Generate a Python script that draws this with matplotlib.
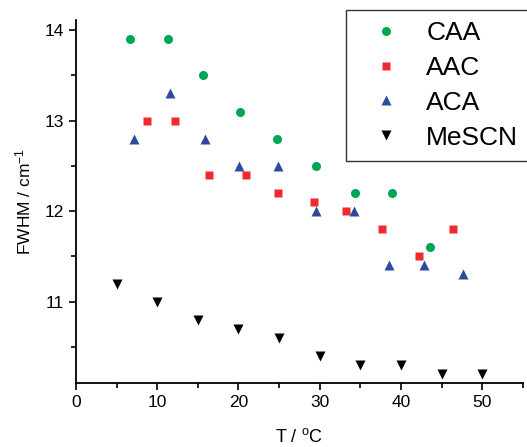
import matplotlib
matplotlib.use("Agg")
import matplotlib.pyplot as plt
from matplotlib.ticker import MultipleLocator

plt.rcParams['font.family'] = ['Liberation Sans', 'DejaVu Sans']

# temperature (deg C) and FWHM (cm^-1) for each sample
caa_t = [6.7, 11.3, 15.6, 20.2, 24.8, 29.5, 34.4, 38.9, 43.6]
caa_w = [13.9, 13.9, 13.5, 13.1, 12.8, 12.5, 12.2, 12.2, 11.6]

aac_t = [8.7, 12.2, 16.4, 20.9, 24.9, 29.3, 33.3, 37.7, 42.2, 46.4]
aac_w = [13.0, 13.0, 12.4, 12.4, 12.2, 12.1, 12.0, 11.8, 11.5, 11.8]

aca_t = [7.1, 11.6, 15.9, 20.1, 24.9, 29.5, 34.2, 38.5, 42.9, 47.7]
aca_w = [12.8, 13.3, 12.8, 12.5, 12.5, 12.0, 12.0, 11.4, 11.4, 11.3]

mescn_t = [5, 10, 15, 20, 25, 30, 35, 40, 45, 50]
mescn_w = [11.2, 11.0, 10.8, 10.7, 10.6, 10.4, 10.3, 10.3, 10.2, 10.2]

fig = plt.figure(figsize=(5.27, 4.47), dpi=100)
ax = fig.add_axes([0.144, 0.143, 0.848, 0.812])

ax.plot(caa_t, caa_w, 'o', color='#00a651', ms=6.5, mec='none', label='CAA')
ax.plot(aac_t, aac_w, 's', color='#ee2a2e', ms=5.6, mec='none', label='AAC')
ax.plot(aca_t, aca_w, '^', color='#2e4a9e', ms=7.2, mec='none', label='ACA')
ax.plot(mescn_t, mescn_w, 'v', color='black', ms=7.2, mec='none', label='MeSCN')

ax.set_xlim(0, 55)
ax.set_ylim(10.1, 14.11)
ax.xaxis.set_major_locator(MultipleLocator(10))
ax.xaxis.set_minor_locator(MultipleLocator(5))
ax.yaxis.set_major_locator(MultipleLocator(1))
ax.yaxis.set_minor_locator(MultipleLocator(0.5))

for side in ['top', 'right']:
    ax.spines[side].set_visible(False)
for side in ['left', 'bottom']:
    ax.spines[side].set_linewidth(1.3)
ax.tick_params(which='major', direction='out', length=5, width=1.2, labelsize=12.5)
ax.tick_params(which='minor', direction='out', length=3.5, width=1.2)

ax.set_xlabel('T / $\\mathregular{^oC}$', fontsize=13, labelpad=13)
ax.set_ylabel('FWHM / cm$\\mathregular{^{-1}}$', fontsize=12.5, labelpad=8)

leg = ax.legend(loc='upper left', bbox_to_anchor=(346 / 527, 1 - 10 / 447),
                bbox_transform=fig.transFigure, fontsize=19, frameon=True,
                fancybox=False, edgecolor='black', labelspacing=0.41,
                handletextpad=0.42, borderpad=0.42, handlelength=2.2,
                borderaxespad=0)
leg.get_frame().set_linewidth(1.0)

fig.savefig('out.png', dpi=100)
